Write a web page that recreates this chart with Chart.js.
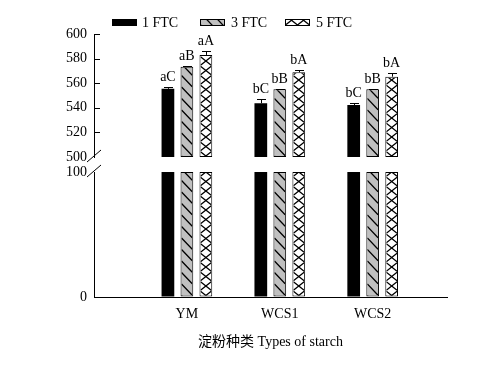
<!DOCTYPE html>
<html lang="zh">
<head>
<meta charset="UTF-8">
<title>Types of starch</title>
<script src="https://cdn.jsdelivr.net/npm/chart.js"></script>
<style>
  html, body { margin: 0; padding: 0; background: #fff; }
  #wrap { width: 483px; height: 368px; }
</style>
</head>
<body>
<div id="wrap"><canvas id="chart" width="483" height="368"></canvas></div>
<script>
// DATA
const categories = ['YM', 'WCS1', 'WCS2'];
const seriesNames = ['1 FTC', '3 FTC', '5 FTC'];
const ftc1 = [555.4, 543.7, 542.3];
const ftc3 = [573.4, 555.0, 555.0];
const ftc5 = [583.0, 568.9, 565.3];
const err1 = [1.6, 3.2, 1.9];
const err3 = [0.6, 0.5, 0.5];
const err5 = [3.5, 1.9, 2.7];
const letters1 = ['aC', 'bC', 'bC'];
const letters3 = ['aB', 'bB', 'bB'];
const letters5 = ['aA', 'bA', 'bA'];
const upperRange = [500, 600];
const upperStep = 20;
const lowerRange = [0, 100];
const lowerStep = 100;

const FONT = "'Liberation Serif', 'Noto Sans CJK SC', serif";
const values = [ftc1, ftc3, ftc5];
const errors = [err1, err3, err5];
const letters = [letters1, letters3, letters5];
const fills = ['#000000', '#c0c0c0', '#ffffff'];

// hatch lines Y = ay + slope*(X-ax) + k*period, clipped to r
function hatch(ctx, r, slope, ax, ay, period) {
    ctx.save();
    ctx.beginPath();
    ctx.rect(r.x, r.y, r.w, r.h);
    ctx.clip();
    const yl = ay + slope * (r.x - ax);
    const yr = ay + slope * (r.x + r.w - ax);
    const lo = Math.min(yl, yr), hi = Math.max(yl, yr);
    const kMin = Math.floor((r.y - hi) / period) - 1;
    const kMax = Math.ceil((r.y + r.h - lo) / period) + 1;
    ctx.beginPath();
    for (let k = kMin; k <= kMax; k++) {
        ctx.moveTo(r.x, yl + k * period);
        ctx.lineTo(r.x + r.w, yr + k * period);
    }
    ctx.strokeStyle = '#000';
    ctx.lineWidth = 1.3;
    ctx.stroke();
    ctx.restore();
}

function fillPattern(ctx, s, r) {
    if (s === 1) {
        hatch(ctx, r, 1.05, r.x, r.y + r.h, 11.5);
    } else if (s === 2) {
        const cx = r.x + r.w / 2;
        const sl = 9.5 / 12;
        hatch(ctx, r, sl, cx, r.y + r.h, 9.5);
        hatch(ctx, r, -sl, cx, r.y + r.h, 9.5);
    }
}

// datasets: each series gets an upper and a lower part sharing one slot
const datasets = [];
values.forEach((vals, s) => {
    const common = {
        stack: 's' + s,
        backgroundColor: fills[s],
        borderColor: '#000',
        borderWidth: s === 0 ? 0 : 1,
        borderSkipped: false,
        categoryPercentage: 57 / 93,
        barPercentage: 0.67
    };
    datasets.push(Object.assign({
        label: seriesNames[s],
        yAxisID: 'yTop',
        data: categories.map((c, i) => ({ x: i + 1, y: [upperRange[0], vals[i]] }))
    }, common));
    datasets.push(Object.assign({
        label: seriesNames[s] + ' low',
        yAxisID: 'yBottom',
        data: categories.map((c, i) => ({ x: i + 1, y: [lowerRange[0], lowerRange[1]] }))
    }, common));
});

const decorPlugin = {
    id: 'decor',
    afterDatasetsDraw(chart) {
        const ctx = chart.ctx;
        const yTop = chart.scales.yTop;
        chart.data.datasets.forEach((ds, di) => {
            const s = Math.floor(di / 2);
            const meta = chart.getDatasetMeta(di);
            meta.data.forEach((bar, i) => {
                const p = bar.getProps(['x', 'y', 'base', 'width'], true);
                const top = Math.min(p.y, p.base), bot = Math.max(p.y, p.base);
                const r = { x: p.x - p.width / 2 + 1, y: top + 1, w: p.width - 2, h: bot - top - 2 };
                fillPattern(ctx, s, r);

                if (ds.yAxisID !== 'yTop') return;
                // error bar (upper half) and letters
                const capY = Math.round(yTop.getPixelForValue(values[s][i] + errors[s][i])) + 0.5;
                const cx = Math.round(p.x) + 0.5;
                ctx.save();
                ctx.strokeStyle = '#000';
                ctx.lineWidth = 1;
                ctx.beginPath();
                ctx.moveTo(cx, top);
                ctx.lineTo(cx, capY);
                ctx.moveTo(cx - 4.5, capY);
                ctx.lineTo(cx + 4.5, capY);
                ctx.stroke();
                ctx.fillStyle = '#000';
                ctx.font = '14px ' + FONT;
                ctx.textAlign = 'center';
                ctx.textBaseline = 'alphabetic';
                ctx.fillText(letters[s][i], p.x, capY - 7);
                ctx.restore();
            });
        });
    },
    afterDraw(chart) {
        const ctx = chart.ctx;
        const yTop = chart.scales.yTop, yBottom = chart.scales.yBottom;
        const left = chart.chartArea.left;
        ctx.save();
        ctx.strokeStyle = '#000';
        ctx.lineWidth = 1;
        // inward tick marks on the upper axis
        ctx.beginPath();
        yTop.ticks.forEach((t, i) => {
            if (t.value === upperRange[0]) return;
            const y = Math.round(yTop.getPixelForTick(i)) + 0.5;
            ctx.moveTo(left, y);
            ctx.lineTo(left + 6, y);
        });
        // axis break marks
        [yTop.getPixelForValue(upperRange[0]) - 1, yBottom.getPixelForValue(lowerRange[1]) - 1].forEach(y => {
            ctx.moveTo(left - 7, y + 6);
            ctx.lineTo(left + 7, y - 6);
        });
        ctx.stroke();

        // legend
        const boxes = [112, 200, 285];
        const texts = [142, 231, 316];
        ctx.font = '14px ' + FONT;
        ctx.textAlign = 'left';
        ctx.textBaseline = 'alphabetic';
        seriesNames.forEach((name, s) => {
            const r = { x: boxes[s], y: 19, w: 25, h: 7 };
            ctx.fillStyle = fills[s];
            ctx.fillRect(r.x, r.y, r.w, r.h);
            if (s > 0) {
                fillPattern(ctx, s, { x: r.x + 1, y: r.y + 1, w: r.w - 2, h: r.h - 2 });
                ctx.strokeRect(r.x + 0.5, r.y + 0.5, r.w - 1, r.h - 1);
            }
            ctx.fillStyle = '#000';
            ctx.fillText(name, texts[s], 27);
        });
        ctx.restore();
    }
};

const tickFont = { family: FONT, size: 14 };
const yCommon = {
    type: 'linear',
    position: 'left',
    stack: 'y',
    stacked: false,
    grid: { display: true, drawOnChartArea: false, drawTicks: false },
    border: { display: true, color: '#000', width: 1 },
    ticks: { color: '#000', font: tickFont, padding: 7, autoSkip: false },
    afterFit: scale => { scale.width = 94; }
};

new Chart(document.getElementById('chart'), {
    type: 'bar',
    data: { datasets },
    options: {
        responsive: false,
        animation: false,
        layout: { padding: { top: 34, right: 36, left: 0, bottom: 0 } },
        plugins: { legend: { display: false }, tooltip: { enabled: false } },
        scales: {
            x: {
                type: 'linear',
                min: 0,
                max: 3.8,
                offset: false,
                grid: { display: true, offset: false, drawOnChartArea: false, drawTicks: false },
                border: { display: true, color: '#000', width: 1 },
                afterBuildTicks: scale => {
                    scale.ticks = categories.map((c, i) => ({ value: i + 1 }));
                },
                ticks: {
                    color: '#000',
                    font: tickFont,
                    padding: 9,
                    autoSkip: false,
                    maxRotation: 0,
                    callback: v => categories[v - 1]
                },
                title: {
                    display: true,
                    text: '淀粉种类 Types of starch',
                    color: '#000',
                    font: tickFont,
                    padding: { top: 4, bottom: 17 }
                },
                afterFit: scale => { scale.height = 71; }
            },
            yTop: Object.assign({}, yCommon, {
                weight: 3,
                stackWeight: 123,
                min: upperRange[0],
                max: upperRange[1],
                ticks: Object.assign({}, yCommon.ticks, { stepSize: upperStep })
            }),
            yGap: Object.assign({}, yCommon, {
                weight: 2,
                stackWeight: 15,
                grid: { display: false },
                border: { display: false },
                ticks: { display: false }
            }),
            yBottom: Object.assign({}, yCommon, {
                weight: 1,
                stackWeight: 125,
                min: lowerRange[0],
                max: lowerRange[1],
                ticks: Object.assign({}, yCommon.ticks, { stepSize: lowerStep })
            })
        }
    },
    plugins: [decorPlugin]
});
</script>
</body>
</html>
